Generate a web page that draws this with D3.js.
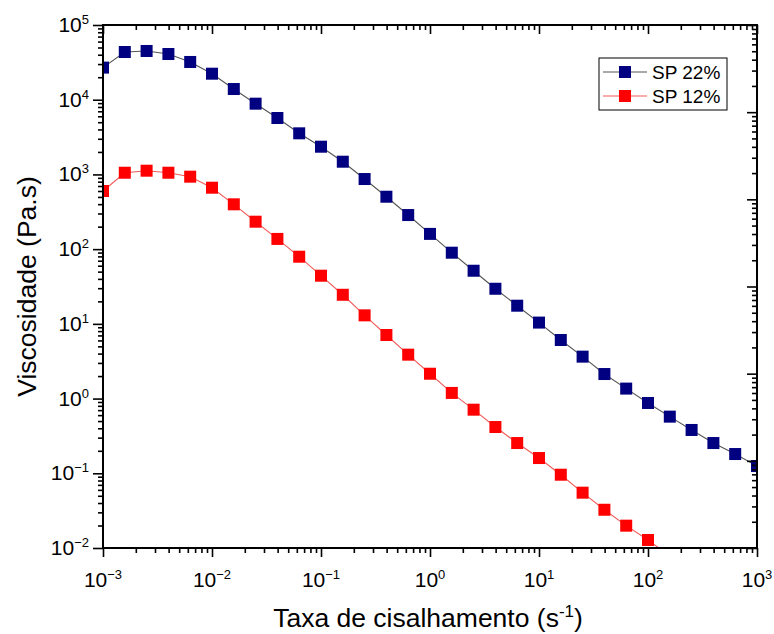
<!DOCTYPE html>
<html>
<head>
<meta charset="utf-8">
<script src="https://cdn.jsdelivr.net/npm/d3@7"></script>
<style>
  html, body { margin: 0; padding: 0; background: #fff; }
  svg { display: block; font-family: "Liberation Sans", Arial, sans-serif; }
</style>
</head>
<body>
<svg id="chart" width="774" height="634"></svg>
<script>
// ---- data ----
const shearRateExp = d3.range(31).map(i => -3 + i * 0.2); // log10 shear rate, 5 pts/decade
const sp22 = [26900, 43500, 44900, 40900, 32000, 22300, 13900, 8850, 5690, 3550,
              2350, 1480, 868, 503, 286, 160, 89.6, 51.4, 29.5, 17.5,
              10.4, 6.08, 3.64, 2.13, 1.36, 0.873, 0.573, 0.380, 0.254, 0.181, 0.125];
const sp12 = [600, 1054, 1122, 1054, 933, 664, 398, 233, 137, 79.2,
              44.1, 24.5, 13.0, 7.09, 3.87, 2.15, 1.19, 0.710, 0.416, 0.254,
              0.160, 0.0957, 0.0550, 0.0325, 0.0199, 0.0128, 0.0078];
const seriesNames = ["SP 22%", "SP 12%"];
const xTickExps = [-3, -2, -1, 0, 1, 2, 3];
const yTickExps = [-2, -1, 0, 1, 2, 3, 4, 5];
const xTitle = "Taxa de cisalhamento (s";
const xTitleSup = "-1";
const yTitle = "Viscosidade (Pa.s)";

// ---- layout ----
const L = 103, R = 757, T = 25, B = 548;
const svg = d3.select("#chart");
const x = d3.scaleLog().domain([1e-3, 1e3]).range([L, R]);
const y = d3.scaleLog().domain([1e-2, 1e5]).range([B, T]);
const yR = d3.scaleLog().domain([1e-2, 1e4]).range([B, T]);

function minors(lo, hi) {
  const out = [];
  for (let e = lo; e < hi; e++) for (let m = 2; m <= 9; m++) out.push(m * Math.pow(10, e));
  return out;
}
function majors(lo, hi) { return d3.range(lo, hi + 1).map(e => Math.pow(10, e)); }

const data22 = sp22.map((v, i) => ({x: Math.pow(10, shearRateExp[i]), y: v}));
const data12 = sp12.map((v, i) => ({x: Math.pow(10, shearRateExp[i]), y: v}));

svg.append("defs").append("clipPath").attr("id", "clip")
  .append("rect").attr("x", L).attr("y", T).attr("width", R - L).attr("height", B - T);

const plot = svg.append("g").attr("clip-path", "url(#clip)");
const line = d3.line().x(d => x(d.x)).y(d => y(d.y));
const series = [
  {data: data22, line: "#555555", fill: "#000080"},
  {data: data12, line: "#f25a5a", fill: "#ff0000"}
];
const S = 12;
series.forEach(s => {
  plot.append("path").datum(s.data).attr("d", line)
    .attr("fill", "none").attr("stroke", s.line).attr("stroke-width", 1.1);
});
series.forEach(s => {
  plot.selectAll(null).data(s.data).enter().append("rect")
    .attr("x", d => x(d.x) - S / 2).attr("y", d => y(d.y) - S / 2)
    .attr("width", S).attr("height", S).attr("fill", s.fill);
});

// ---- axes ----
function styleAxis(g) {
  g.select(".domain").remove();
  g.selectAll(".tick line").attr("stroke", "#000").attr("stroke-width", 1.6);
  g.selectAll(".tick text").remove();
}
// bottom
svg.append("g").attr("transform", `translate(0,${B})`)
  .call(d3.axisBottom(x).tickValues(majors(-3, 3)).tickSize(9).tickFormat("")).call(styleAxis);
svg.append("g").attr("transform", `translate(0,${B})`)
  .call(d3.axisBottom(x).tickValues(minors(-3, 3)).tickSize(5).tickFormat("")).call(styleAxis);
// top (inward)
svg.append("g").attr("transform", `translate(0,${T})`)
  .call(d3.axisBottom(x).tickValues(majors(-3, 3)).tickSize(9).tickFormat("")).call(styleAxis);
svg.append("g").attr("transform", `translate(0,${T})`)
  .call(d3.axisBottom(x).tickValues(minors(-3, 3)).tickSize(5).tickFormat("")).call(styleAxis);
// left
svg.append("g").attr("transform", `translate(${L},0)`)
  .call(d3.axisLeft(y).tickValues(majors(-2, 5)).tickSize(10).tickFormat("")).call(styleAxis);
svg.append("g").attr("transform", `translate(${L},0)`)
  .call(d3.axisLeft(y).tickValues(minors(-2, 5)).tickSize(5).tickFormat("")).call(styleAxis);
// right (inward, own scale)
svg.append("g").attr("transform", `translate(${R},0)`)
  .call(d3.axisLeft(yR).tickValues(majors(-2, 4)).tickSize(10).tickFormat("")).call(styleAxis);
svg.append("g").attr("transform", `translate(${R},0)`)
  .call(d3.axisLeft(yR).tickValues(minors(-2, 4)).tickSize(5).tickFormat("")).call(styleAxis);

// frame
svg.append("rect").attr("x", L).attr("y", T).attr("width", R - L).attr("height", B - T)
  .attr("fill", "none").attr("stroke", "#000").attr("stroke-width", 2);

// tick labels
function powLabel(g, e) {
  g.append("tspan").text("10");
  g.append("tspan").attr("dy", -8).attr("font-size", 13).text(String(e).replace("-", "\u2212"));
}
xTickExps.forEach(e => {
  const t = svg.append("text").attr("x", x(Math.pow(10, e))).attr("y", 587)
    .attr("text-anchor", "middle").attr("font-size", 21).attr("fill", "#000");
  powLabel(t, e);
});
yTickExps.forEach(e => {
  const t = svg.append("text").attr("x", 89).attr("y", y(Math.pow(10, e)) + 7)
    .attr("text-anchor", "end").attr("font-size", 21).attr("fill", "#000");
  powLabel(t, e);
});

// titles
const xt = svg.append("text").attr("x", 428).attr("y", 627).attr("text-anchor", "middle")
  .attr("font-size", 26.5).attr("fill", "#000");
xt.append("tspan").text(xTitle);
xt.append("tspan").attr("dy", -10).attr("font-size", 17).text(xTitleSup);
xt.append("tspan").attr("dy", 10).text(")");

svg.append("text").attr("transform", `translate(36,${(T + B) / 2}) rotate(-90)`)
  .attr("text-anchor", "middle").attr("font-size", 26.5).attr("fill", "#000").text(yTitle);

// legend
const lg = svg.append("g");
lg.append("rect").attr("x", 599).attr("y", 58).attr("width", 128).attr("height", 52)
  .attr("fill", "#fff").attr("stroke", "#000").attr("stroke-width", 1);
series.forEach((s, i) => {
  const cy = 72 + i * 24;
  lg.append("line").attr("x1", 603).attr("x2", 647).attr("y1", cy).attr("y2", cy)
    .attr("stroke", s.line).attr("stroke-width", 1.1);
  lg.append("rect").attr("x", 625 - S / 2).attr("y", cy - S / 2).attr("width", S).attr("height", S)
    .attr("fill", s.fill);
  lg.append("text").attr("x", 652).attr("y", cy + 7).attr("font-size", 19).attr("fill", "#000")
    .text(seriesNames[i]);
});
</script>
</body>
</html>
